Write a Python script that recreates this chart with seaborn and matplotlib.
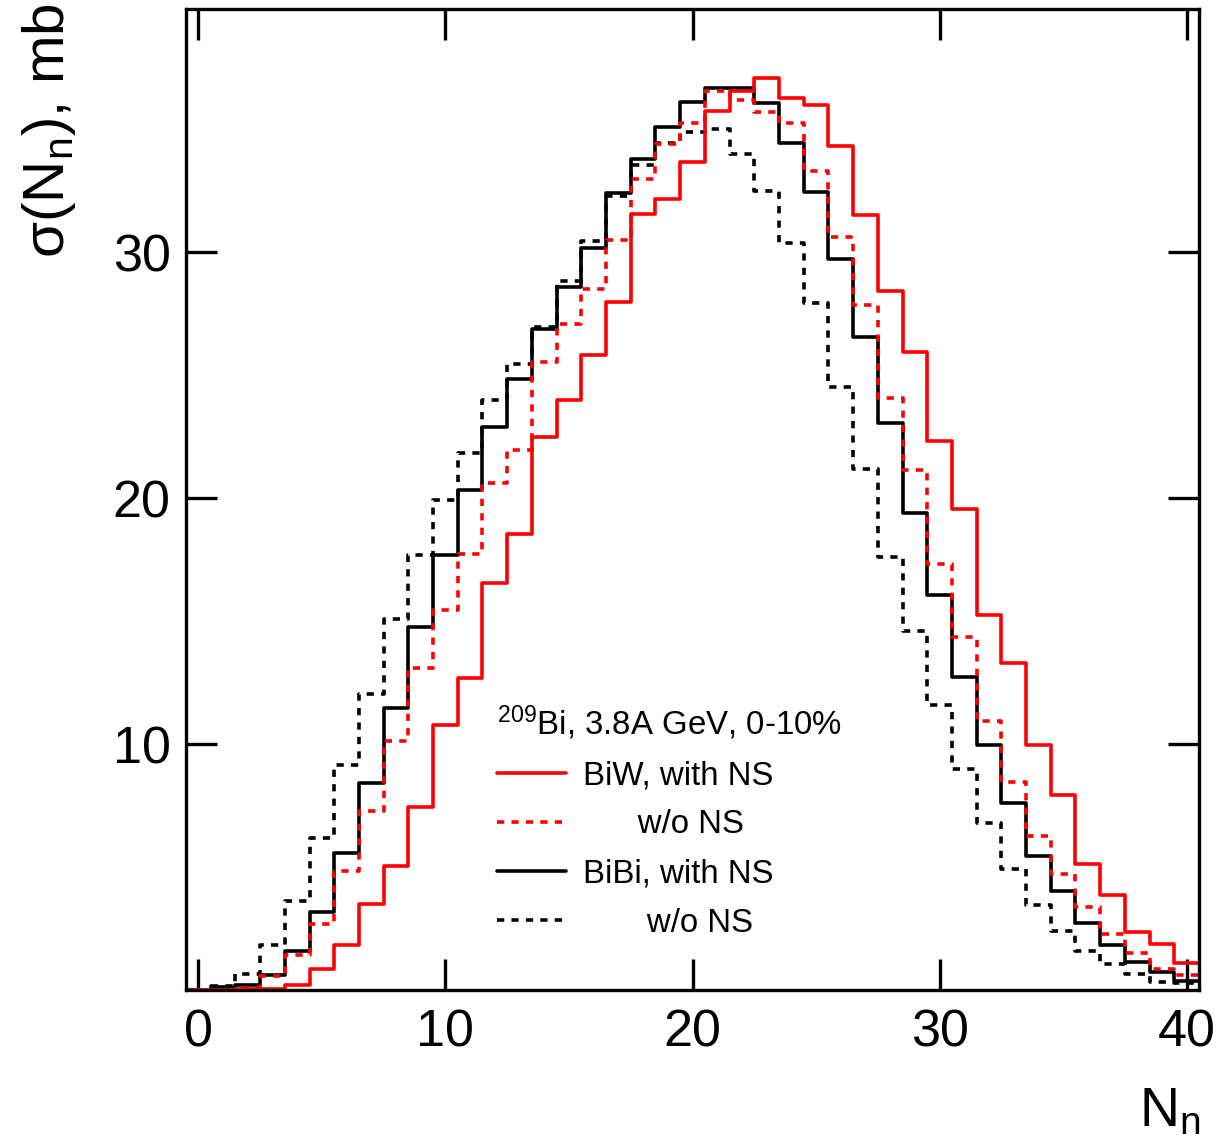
import numpy as np
import pandas as pd
import matplotlib
matplotlib.use("Agg")
import matplotlib.pyplot as plt
import seaborn as sns
from matplotlib.lines import Line2D

# ---- data (bins N_n = 0..40) ----
n_bins = list(range(0, 41))
biw_ns = [0, 0, 0.03, 0.06, 0.2, 0.86, 1.84, 3.51, 5.05, 7.46, 10.76, 12.69, 16.57, 18.55,
          22.49, 23.99, 25.82, 28.0, 31.58, 32.18, 33.67, 35.76, 36.57, 37.08, 36.3, 36.0,
          34.33, 31.54, 28.45, 25.93, 22.33, 19.57, 15.24, 13.28, 9.98, 7.93, 5.14, 3.88,
          2.36, 1.88, 1.09]
biw_nons = [0, 0.02, 0.08, 0.55, 1.43, 2.69, 4.83, 7.28, 10.14, 13.1, 15.44, 17.73, 20.61,
            21.97, 25.55, 27.08, 28.5, 30.52, 33.0, 34.42, 35.28, 36.55, 36.2, 35.71, 35.28,
            33.33, 30.61, 27.87, 24.08, 21.13, 17.32, 14.36, 10.93, 8.48, 6.26, 4.73, 3.38,
            2.29, 1.5, 0.86, 0.59]
bibi_ns = [0, 0.11, 0.2, 0.62, 1.6, 3.17, 5.59, 8.41, 11.47, 14.76, 17.69, 20.34, 22.9,
           24.85, 26.88, 28.59, 30.16, 32.4, 33.81, 35.1, 36.12, 36.68, 36.68, 36.07, 34.44,
           32.45, 29.73, 26.55, 23.06, 19.4, 16.06, 12.72, 9.95, 7.62, 5.44, 4.02, 2.73,
           1.81, 1.13, 0.72, 0.38]
bibi_nons = [0, 0.15, 0.65, 1.81, 3.61, 6.19, 9.16, 12.04, 15.08, 17.69, 19.93, 21.85, 23.99,
             25.48, 26.98, 28.82, 30.48, 32.3, 33.54, 34.46, 34.9, 35.0, 33.99, 32.49, 30.38,
             27.96, 24.51, 21.2, 17.62, 14.6, 11.58, 9.0, 6.78, 4.91, 3.44, 2.42, 1.57, 1.06,
             0.65, 0.34, 0.3]

legend_title = r"$^{209}$Bi, 3.8A GeV, 0-10%"
series_labels = ["BiW, with NS", "      w/o NS", "BiBi, with NS", "       w/o NS"]
x_ticks = [0, 10, 20, 30, 40]
y_ticks = [10, 20, 30]

sns.set_theme(style="white")
plt.rcParams['font.family'] = ['Liberation Sans', 'DejaVu Sans']
plt.rcParams['mathtext.fontset'] = 'custom'
plt.rcParams['mathtext.rm'] = 'Liberation Sans'
plt.rcParams['mathtext.it'] = 'Liberation Sans:italic'
plt.rcParams['text.color'] = 'black'

fig = plt.figure(figsize=(12.17, 11.43), dpi=100)
ax = fig.add_axes([186/1217, 1 - 990/1143, (1199-186)/1217, (990-9)/1143])

lw = 2.6
dot = (0, (2.0, 2.0))
specs = [
    (bibi_nons, "black", dot),
    (bibi_ns, "black", "-"),
    (biw_nons, "red", dot),
    (biw_ns, "red", "-"),
]
for vals, col, ls in specs:
    df = pd.DataFrame({"N": n_bins, "w": vals})
    sns.histplot(data=df, x="N", weights="w", discrete=True, element="step", fill=False,
                 color=col, linestyle=ls, linewidth=lw, ax=ax)

ax.set_xlim(-0.5, 40.5)
ax.set_ylim(0, 39.9)
ax.set_xticks(x_ticks)
ax.set_yticks(y_ticks)
ax.set_xlabel("")
ax.set_ylabel("")
ax.tick_params(axis="both", which="major", direction="in", length=22, width=2.4,
               top=True, right=True, bottom=True, left=True, labelsize=37.5,
               colors="black", pad=11)
ax.tick_params(axis="x", pad=13)
for s in ax.spines.values():
    s.set_linewidth(2.4)
    s.set_color("black")

fig.text(0.040, 0.997, r"σ(N$_{\mathregular{n}}$), mb", rotation=90, ha="center", va="top",
         fontsize=42, color="black")
fig.text(0.987, 0.004, r"N$_{\mathregular{n}}$", ha="right", va="bottom", fontsize=40,
         color="black")

handles = [
    Line2D([], [], color="red", lw=lw, ls="-"),
    Line2D([], [], color="red", lw=lw, ls=dot),
    Line2D([], [], color="black", lw=lw, ls="-"),
    Line2D([], [], color="black", lw=lw, ls=dot),
]
leg = ax.legend(handles, series_labels, title=legend_title, loc="upper left",
                bbox_to_anchor=(0.307, 0.292), frameon=False, fontsize=23.8,
                title_fontsize=23.8, handlelength=2.1, handletextpad=0.5,
                labelspacing=0.55, borderpad=0, borderaxespad=0, labelcolor="black")
leg.get_title().set_color("black")
leg._legend_box.align = "left"

fig.savefig("out.png", dpi=100)
